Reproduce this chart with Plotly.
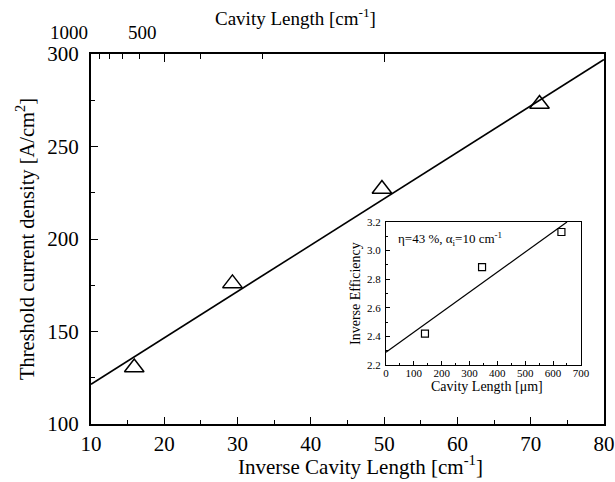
import plotly.graph_objects as go

# Main data: inverse cavity length [cm^-1] vs threshold current density [A/cm^2]
inv_len = [15.9, 29.3, 49.7, 71.2]
jth = [130.5, 176, 227, 273]
fit_x = [10, 80]
fit_y = [121.5, 297]

# Top axis: cavity length [um] ticks
top_major_len = [1000, 500, 200]
top_major_text = ["1000", "500", ""]
top_minor_len = [900, 800, 700, 600, 400, 300]

# Inset data: cavity length [um] vs inverse efficiency
cav_len = [140, 345, 630]
inv_eff = [2.42, 2.885, 3.13]
ins_fit_x = [0, 650]
ins_fit_y = [2.29, 3.2]

SERIF = "'Times New Roman', 'Liberation Serif', Times, serif"

fig = go.Figure()
fig.add_trace(go.Scatter(x=fit_x, y=fit_y, mode="lines",
                         line=dict(color="black", width=1.6), xaxis="x", yaxis="y",
                         showlegend=False, cliponaxis=True))
fig.add_trace(go.Scatter(x=inv_len, y=jth, mode="markers",
                         marker=dict(symbol="triangle-up-open", size=17,
                                     color="black", line=dict(width=1.5, color="black")),
                         xaxis="x", yaxis="y", showlegend=False))
# invisible trace to activate top axis
fig.add_trace(go.Scatter(x=fit_x, y=fit_y, mode="lines", line=dict(width=0),
                         opacity=0, xaxis="x2", yaxis="y", showlegend=False,
                         hoverinfo="skip"))
# inset
fig.add_trace(go.Scatter(x=ins_fit_x, y=ins_fit_y, mode="lines",
                         line=dict(color="black", width=1.2), xaxis="x3", yaxis="y3",
                         showlegend=False))
fig.add_trace(go.Scatter(x=cav_len, y=inv_eff, mode="markers",
                         marker=dict(symbol="square-open", size=7, color="black",
                                     line=dict(width=1.2, color="black")),
                         xaxis="x3", yaxis="y3", showlegend=False))

top_major_vals = [1e4 / L for L in top_major_len]
top_minor_vals = [1e4 / L for L in top_minor_len]

fig.update_layout(
    width=615, height=482,
    margin=dict(l=91, r=11, t=54, b=58),
    paper_bgcolor="white", plot_bgcolor="white",
    font=dict(family=SERIF, color="black"),
    xaxis=dict(range=[10, 80], tickvals=[10, 20, 30, 40, 50, 60, 70, 80],
               ticks="inside", ticklen=7, tickwidth=1.3, tickcolor="black",
               minor=dict(tickvals=[15, 25, 35, 45, 55, 65, 75], ticks="inside",
                          ticklen=4, tickwidth=1.2, tickcolor="black"),
               showline=True, linecolor="black", linewidth=2, mirror=True,
               showgrid=False, zeroline=False, automargin=False,
               tickfont=dict(size=21, family=SERIF), ticklabelstandoff=0,
               domain=[0, 1], anchor="y"),
    xaxis2=dict(range=[10, 80], overlaying="x", side="top", anchor="y",
                tickmode="array", tickvals=top_major_vals, ticktext=top_major_text,
                ticks="inside", ticklen=8, tickwidth=1.3, tickcolor="black",
                minor=dict(tickmode="array", tickvals=top_minor_vals, ticks="inside",
                           ticklen=5, tickwidth=1.2, tickcolor="black"),
                showline=False, showgrid=False, zeroline=False, automargin=False,
                ticklabelshift=-22, ticklabelstandoff=10,
                tickfont=dict(size=19, family=SERIF)),
    yaxis=dict(range=[100, 300], tickvals=[100, 150, 200, 250, 300],
               ticks="inside", ticklen=7, tickwidth=1.3, tickcolor="black",
               minor=dict(tickvals=[125, 175, 225, 275], ticks="inside",
                          ticklen=4, tickwidth=1.2, tickcolor="black"),
               showline=True, linecolor="black", linewidth=2, mirror=True,
               showgrid=False, zeroline=False, automargin=False,
               tickfont=dict(size=21, family=SERIF), ticklabelstandoff=6,
               title=dict(text="Threshold current density [A/cm<sup>2</sup>]",
                          font=dict(size=20.5, family=SERIF), standoff=7),
               domain=[0, 1], anchor="x"),
    xaxis3=dict(range=[0, 700], tickvals=[0, 100, 200, 300, 400, 500, 600, 700],
                ticks="inside", ticklen=4, tickwidth=1, tickcolor="black",
                minor=dict(tickvals=[50, 150, 250, 350, 450, 550, 650], ticks="inside",
                           ticklen=2, tickwidth=1, tickcolor="black"),
                showline=True, linecolor="black", linewidth=1.3, mirror=True,
                showgrid=False, zeroline=False, automargin=False,
                tickfont=dict(size=11, family=SERIF), ticklabelstandoff=-3,
                domain=[0.575, 0.955], anchor="y3"),
    yaxis3=dict(range=[2.2, 3.2], tickvals=[2.2, 2.4, 2.6, 2.8, 3.0, 3.2],
                ticktext=["2.2", "2.4", "2.6", "2.8", "3.0", "3.2"],
                ticks="inside", ticklen=4, tickwidth=1, tickcolor="black",
                minor=dict(tickvals=[2.3, 2.5, 2.7, 2.9, 3.1], ticks="inside",
                           ticklen=2, tickwidth=1, tickcolor="black"),
                showline=True, linecolor="black", linewidth=1.3, mirror=True,
                showgrid=False, zeroline=False, automargin=False,
                tickfont=dict(size=11, family=SERIF), ticklabelstandoff=2,
                title=dict(text="Inverse Efficiency", font=dict(size=14, family=SERIF),
                           standoff=2),
                domain=[0.159, 0.546], anchor="x3"),
    annotations=[
        dict(text="η=43 %, α<sub>i</sub>=10 cm<sup>-1</sup>",
             x=35, y=3.08, xref="x3", yref="y3", xanchor="left",
             yanchor="middle", showarrow=False, font=dict(size=13, family=SERIF)),
        dict(text="Cavity Length [cm<sup>-1</sup>]", x=0.398, y=1.1,
             xref="paper", yref="paper", xanchor="center", yanchor="middle",
             showarrow=False, font=dict(size=19, family=SERIF)),
        dict(text="Inverse Cavity Length [cm<sup>-1</sup>]", x=0.526, y=-0.112,
             xref="paper", yref="paper", xanchor="center", yanchor="middle",
             showarrow=False, font=dict(size=21, family=SERIF)),
        dict(text="Cavity Length [μm]", x=363, y=0.102,
             xref="x3", yref="paper", xanchor="center", yanchor="middle",
             showarrow=False, font=dict(size=14, family=SERIF)),
    ],
)

fig.write_html("out.html")
